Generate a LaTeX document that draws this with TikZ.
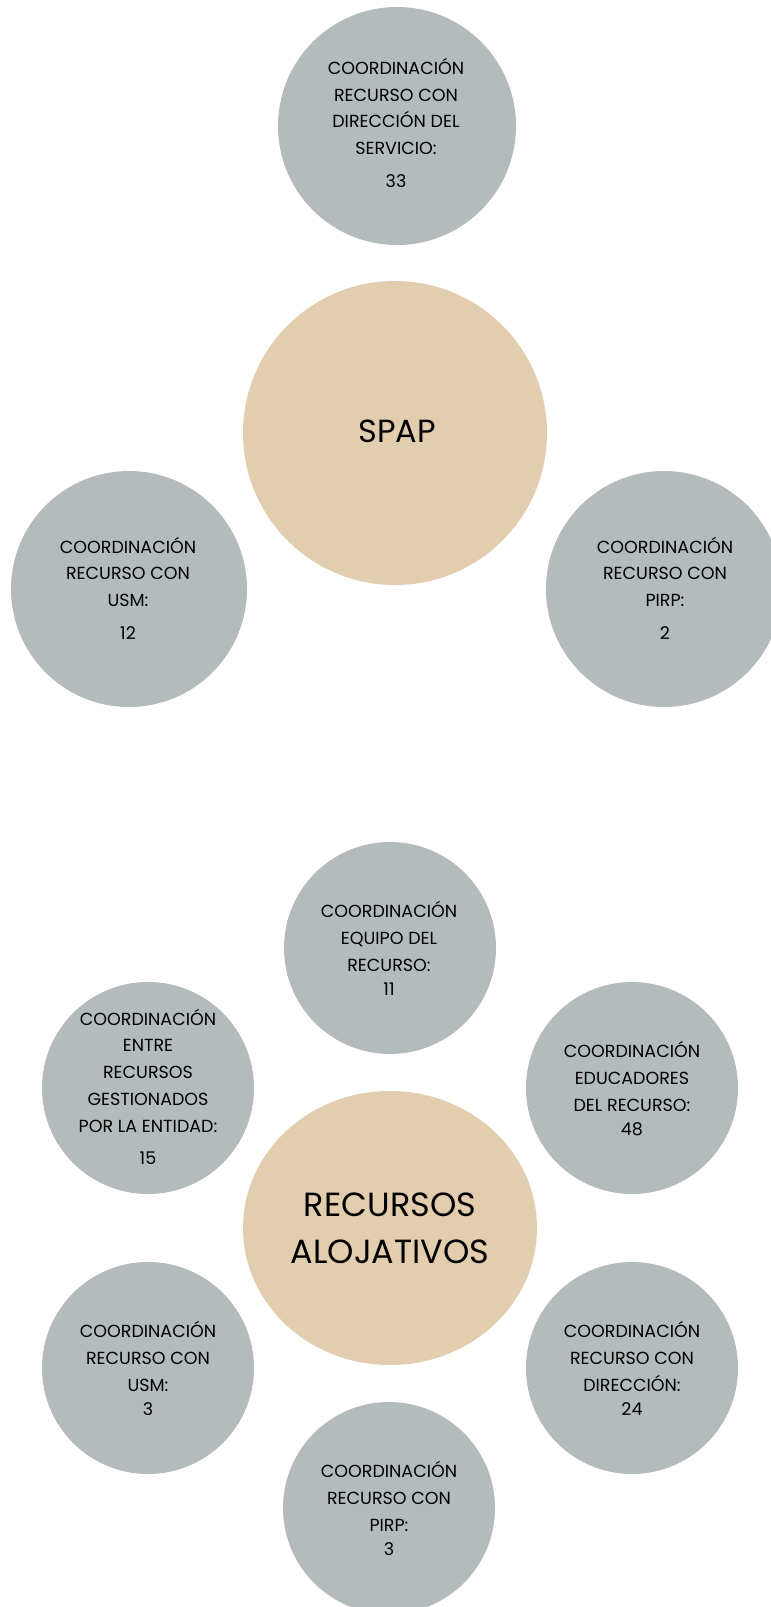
\documentclass[tikz,border=0pt]{standalone}
\usepackage{fontspec}
\setmainfont{Poppins}
\usetikzlibrary{shapes.geometric}
\definecolor{cgray}{HTML}{B3BBBC}
\definecolor{cbeige}{HTML}{E2CDAE}
\newcommand\smallfont[1]{\fontsize{17.5}{#1}\selectfont}
\tikzset{
  gcirc/.style={circle, fill=cgray, draw=none, inner sep=0pt, minimum size=#1},
  bcirc/.style={circle, fill=cbeige, draw=none, inner sep=0pt, minimum size=#1},
  lbl/.style={anchor=base, inner sep=0pt, text=black},
}
\begin{document}
\begin{tikzpicture}[x=1pt,y=-1pt]
\useasboundingbox (0,0) rectangle (771,1607);
\clip (0,0) rectangle (771,1607);
\fill[white] (0,0) rectangle (771,1607);
% --- SPAP group ---
\node[gcirc=238] (ctop) at (397,126) {};
\node[bcirc=304] (cspap) at (395,433) {};
\node[gcirc=236] (cusm1) at (129,589) {};
\node[gcirc=236] (cpirp1) at (664,589) {};
\node[lbl] (ttop) at (396,74.3) {\smallfont{26.7}\begin{tabular}[t]{@{}c@{}}COORDINACIÓN\\RECURSO CON\\DIRECCIÓN DEL\\SERVICIO:\\[6.7pt]33\end{tabular}};
\node[lbl] (tspap) at (397,442) {\fontsize{32}{38}\selectfont SPAP};
\node[lbl] (tusm1) at (128,553) {\smallfont{26.5}\begin{tabular}[t]{@{}c@{}}COORDINACIÓN\\RECURSO CON\\USM:\\[6.5pt]12\end{tabular}};
\node[lbl] (tpirp1) at (665,553) {\smallfont{26.5}\begin{tabular}[t]{@{}c@{}}COORDINACIÓN\\RECURSO CON\\PIRP:\\[6.5pt]2\end{tabular}};
% --- Recursos alojativos group ---
\node[gcirc=212] (cequipo) at (390,948) {};
\node[gcirc=212] (centre) at (148,1088) {};
\node[gcirc=212] (ceduc) at (632,1088) {};
\node[ellipse, fill=cbeige, draw=none, inner sep=0pt, minimum width=294, minimum height=274] (crec) at (390,1228) {};
\node[gcirc=212] (cusm2) at (148,1368) {};
\node[gcirc=212] (cdir) at (632,1368) {};
\node[gcirc=212] (cpirp2) at (389,1508) {};
\node[lbl] (tequipo) at (389,917) {\smallfont{27}\begin{tabular}[t]{@{}c@{}}COORDINACIÓN\\EQUIPO DEL\\RECURSO:\\[-3pt]11\end{tabular}};
\node[lbl] (teduc) at (632,1057) {\smallfont{27}\begin{tabular}[t]{@{}c@{}}COORDINACIÓN\\EDUCADORES\\DEL RECURSO:\\[-3pt]48\end{tabular}};
\node[lbl] (tentre) at (148,1025) {\smallfont{26.75}\begin{tabular}[t]{@{}c@{}}COORDINACIÓN\\ENTRE\\RECURSOS\\GESTIONADOS\\POR LA ENTIDAD:\\[5.3pt]15\end{tabular}};
\node[lbl] (trec) at (390,1216) {\fontsize{33.5}{47}\selectfont\begin{tabular}[t]{@{}c@{}}RECURSOS\\ALOJATIVOS\end{tabular}};
\node[lbl] (tusm2) at (148,1337) {\smallfont{27}\begin{tabular}[t]{@{}c@{}}COORDINACIÓN\\RECURSO CON\\USM:\\[-2.5pt]3\end{tabular}};
\node[lbl] (tdir) at (632,1337) {\smallfont{27}\begin{tabular}[t]{@{}c@{}}COORDINACIÓN\\RECURSO CON\\DIRECCIÓN:\\[-2.5pt]24\end{tabular}};
\node[lbl] (tpirp2) at (389,1477) {\smallfont{27}\begin{tabular}[t]{@{}c@{}}COORDINACIÓN\\RECURSO CON\\PIRP:\\[-3pt]3\end{tabular}};
\end{tikzpicture}
\end{document}
